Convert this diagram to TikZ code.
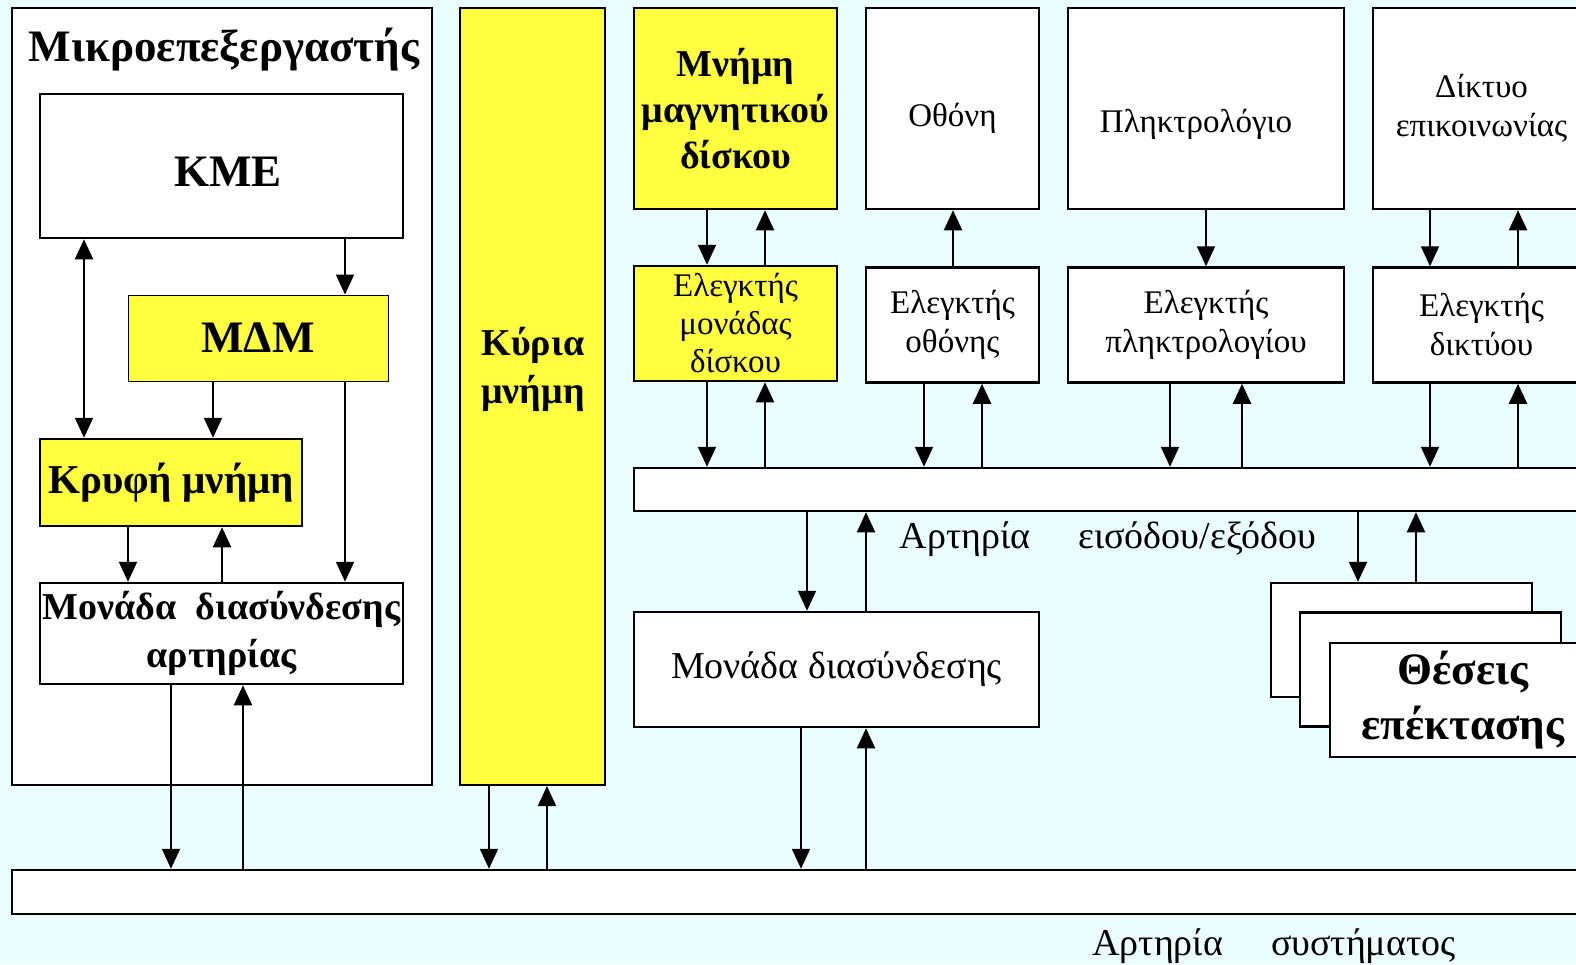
\documentclass[tikz,border=0pt]{standalone}
\usepackage{fontspec}
\setmainfont{Liberation Serif}
\usetikzlibrary{arrows.meta}
\definecolor{bgcyan}{HTML}{EBFEFF}
\definecolor{boxyellow}{HTML}{FFFF40}
\newcommand\fsTitle{\fontsize{45}{50}\selectfont\bfseries}
\newcommand\fsBig{\fontsize{45}{54}\selectfont\bfseries}
\newcommand\fsBold{\fontsize{38}{48}\selectfont\bfseries}
\newcommand\fsCache{\fontsize{41}{48}\selectfont\bfseries}
\newcommand\fsDisk{\fontsize{38}{46}\selectfont\bfseries}
\newcommand\fsSlot{\fontsize{45}{55}\selectfont\bfseries}
\newcommand\fsText{\fontsize{33}{39}\selectfont}
\newcommand\fsCtrl{\fontsize{33}{38}\selectfont}
\newcommand\fsBus{\fontsize{38}{40}\selectfont}
\tikzset{
  box/.style={draw, line width=2.5pt, fill=white, inner sep=0pt, align=center},
  ybox/.style={box, fill=boxyellow},
  arr/.style={line width=2pt, -{Triangle[length=20pt,width=18pt]}},
  darr/.style={line width=2pt, {Triangle[length=20pt,width=18pt]}-{Triangle[length=20pt,width=18pt]}},
}
\begin{document}
\begin{tikzpicture}[x=1pt,y=-1pt]
\fill[bgcyan] (0,0) rectangle (1576,964);
\useasboundingbox (0,0) rectangle (1576,964);
\clip (0,0) rectangle (1576,964);

% microprocessor
\node[box, minimum width=420pt, minimum height=777pt] (cpu) at (222,396.5) {};
\node[font=\fsTitle] (cputitle) at (224,50) {Μικροεπεξεργαστής};
\node[box, minimum width=363pt, minimum height=144pt] (kme) at (221.5,166) {};
\node[font=\fsBig] (kmetext) at (228,172) {ΚΜΕ};
\node[ybox, line width=1pt, minimum width=260pt, minimum height=86pt, font=\fsBig] (mdm) at (258,338) {ΜΔΜ};
\node[ybox, minimum width=262pt, minimum height=87pt, font=\fsCache] (cache) at (171,482.5) {Κρυφή μνήμη};
\node[box, minimum width=363pt, minimum height=101pt, font=\fsBold] (biu) at (221.5,633.5) {Μονάδα\ \ διασύνδεσης\\αρτηρίας};

% main memory
\node[ybox, line width=2pt, minimum width=145pt, minimum height=777pt] (ram) at (532.5,396.5) {};
\node[font=\fsBold, align=center] (ramtext) at (533,369) {Κύρια\\μνήμη};

% peripherals
\node[ybox, minimum width=203pt, minimum height=201pt, font=\fsDisk] (disk) at (735.5,108.5) {Μνήμη\\μαγνητικού\\δίσκου};
\node[ybox, minimum width=203pt, minimum height=115pt, font=\fsCtrl] (diskc) at (735.5,323.5) {Ελεγκτής\\μονάδας\\δίσκου};
\node[box, minimum width=173pt, minimum height=201pt] (scr) at (952.5,108.5) {};
\node[font=\fsText] (scrtext) at (952.5,118) {Οθόνη};
\node[box, minimum width=173pt, minimum height=115pt, font=\fsText] (scrc) at (952.5,325) {Ελεγκτής\\οθόνης};
\node[box, minimum width=276pt, minimum height=201pt] (kbd) at (1206,108.5) {};
\node[font=\fsText] (kbdtext) at (1196,124) {Πληκτρολόγιο};
\node[box, minimum width=276pt, minimum height=115pt, font=\fsText] (kbdc) at (1206,325) {Ελεγκτής\\πληκτρολογίου};
\node[box, minimum width=217pt, minimum height=201pt, font=\fsText] (net) at (1481.5,108.5) {Δίκτυο\\επικοινωνίας};
\node[box, minimum width=217pt, minimum height=115pt, font=\fsText] (netc) at (1481.5,325) {Ελεγκτής\\δικτύου};

% buses
\node[box, minimum width=966pt, minimum height=43pt] (iobus) at (1117,489.5) {};
\node[font=\fsBus] (iolabel) at (1108,539) {Αρτηρία\hspace{48pt}εισόδου/εξόδου};
\node[box, minimum width=1588pt, minimum height=44pt] (sysbus) at (806,892) {};
\node[font=\fsBus] (syslabel) at (1274,946) {Αρτηρία\hspace{48pt}συστήματος};

\node[box, minimum width=405pt, minimum height=115pt, font=\fsBus] (iou) at (836.5,669.5) {Μονάδα διασύνδεσης};

% expansion slots
\node[box, minimum width=261pt, minimum height=114pt] (slotA) at (1401.5,640) {};
\node[box, minimum width=261pt, minimum height=114pt] (slotB) at (1430.5,669.5) {};
\node[box, minimum width=266pt, minimum height=114pt, font=\fsSlot] (slotC) at (1463,700) {Θέσεις\\επέκτασης};

% inside the microprocessor
\draw[darr] (kme.south -| 84,0) -- (cache.north -| 84,0);
\draw[arr] (kme.south -| 345,0) -- (mdm.north -| 345,0);
\draw[arr] (mdm.south -| 213,0) -- (cache.north -| 213,0);
\draw[arr] (mdm.south -| 345,0) -- (biu.north -| 345,0);
\draw[arr] (cache.south -| 128,0) -- (biu.north -| 128,0);
\draw[arr] (biu.north -| 222,0) -- (cache.south -| 222,0);

% system bus
\draw[arr] (biu.south -| 171,0) -- (sysbus.north -| 171,0);
\draw[arr] (sysbus.north -| 243,0) -- (biu.south -| 243,0);
\draw[arr] (ram.south -| 489,0) -- (sysbus.north -| 489,0);
\draw[arr] (sysbus.north -| 547,0) -- (ram.south -| 547,0);
\draw[arr] (iou.south -| 801,0) -- (sysbus.north -| 801,0);
\draw[arr] (sysbus.north -| 866,0) -- (iou.south -| 866,0);

% i/o bus
\draw[arr] (iobus.south -| 807,0) -- (iou.north -| 807,0);
\draw[arr] (iou.north -| 866,0) -- (iobus.south -| 866,0);
\draw[arr] (iobus.south -| 1358,0) -- (slotA.north -| 1358,0);
\draw[arr] (slotA.north -| 1416,0) -- (iobus.south -| 1416,0);

\draw[arr] (disk.south -| 707,0) -- (diskc.north -| 707,0);
\draw[arr] (diskc.north -| 765,0) -- (disk.south -| 765,0);
\draw[arr] (diskc.south -| 707,0) -- (iobus.north -| 707,0);
\draw[arr] (iobus.north -| 765,0) -- (diskc.south -| 765,0);

\draw[arr] (scrc.north -| 953,0) -- (scr.south -| 953,0);
\draw[arr] (scrc.south -| 924,0) -- (iobus.north -| 924,0);
\draw[arr] (iobus.north -| 982,0) -- (scrc.south -| 982,0);

\draw[arr] (kbd.south -| 1206,0) -- (kbdc.north -| 1206,0);
\draw[arr] (kbdc.south -| 1170,0) -- (iobus.north -| 1170,0);
\draw[arr] (iobus.north -| 1242,0) -- (kbdc.south -| 1242,0);

\draw[arr] (net.south -| 1430,0) -- (netc.north -| 1430,0);
\draw[arr] (netc.north -| 1518,0) -- (net.south -| 1518,0);
\draw[arr] (netc.south -| 1430,0) -- (iobus.north -| 1430,0);
\draw[arr] (iobus.north -| 1518,0) -- (netc.south -| 1518,0);
\end{tikzpicture}
\end{document}
